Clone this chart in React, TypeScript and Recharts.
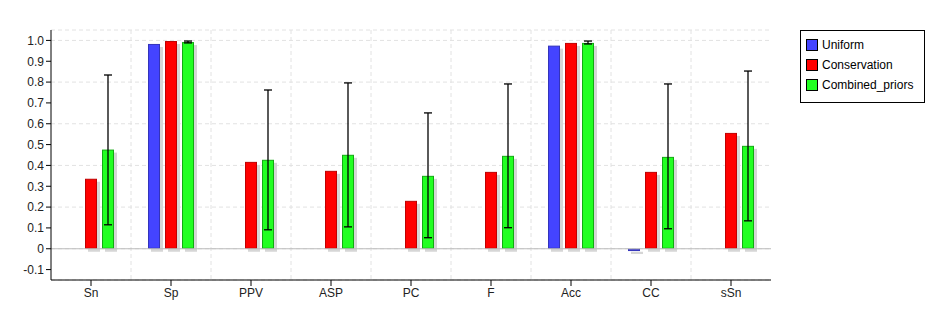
import { BarChart, Bar, XAxis, YAxis, CartesianGrid, ErrorBar, ReferenceLine } from "recharts"

const categories = ["Sn", "Sp", "PPV", "ASP", "PC", "F", "Acc", "CC", "sSn"]
const uniform = [null, 0.983, null, null, null, null, 0.975, -0.011, null]
const conservation = [0.336, 0.997, 0.417, 0.374, 0.23, 0.369, 0.988, 0.369, 0.556]
const combined = [0.476, 0.992, 0.427, 0.451, 0.35, 0.446, 0.988, 0.441, 0.494]
const combinedLow = [0.115, 0.988, 0.091, 0.105, 0.053, 0.101, 0.983, 0.096, 0.134]
const combinedHigh = [0.834, 0.997, 0.762, 0.796, 0.652, 0.791, 0.997, 0.791, 0.853]
const yTicks = [-0.1, 0, 0.1, 0.2, 0.3, 0.4, 0.5, 0.6, 0.7, 0.8, 0.9, 1.0]

const SERIES = [
  { key: "Uniform", fill: "#4444ff", stroke: "#3333bb" },
  { key: "Conservation", fill: "#ff0000", stroke: "#c00000" },
  { key: "Combined_priors", fill: "#22ff22", stroke: "#11aa11" },
]

const data = categories.map((name, i) => ({
  name,
  Uniform: uniform[i],
  Conservation: conservation[i],
  Combined_priors: combined[i],
  err: [combined[i] - combinedLow[i], combinedHigh[i] - combined[i]],
}))

const FONT = "'Liberation Sans', Arial, sans-serif"

function ShadowBar(props: any) {
  const { x, y, width, height, fill, stroke } = props
  if (height == null || width == null) return null
  const top = Math.min(y, y + height)
  const h = Math.abs(height)
  return (
    <g>
      <rect x={x + 3} y={top + 3} width={width} height={h} fill="#d6d6d6" />
      <rect x={x + 0.5} y={top + 0.5} width={width - 1} height={Math.max(h - 1, 1)} fill={fill} stroke={stroke} strokeWidth={1} />
    </g>
  )
}

// legend sits outside the plot, like the original's separate box
function LegendBox() {
  return (
    <div
      style={{
        position: "absolute",
        left: 800,
        top: 30,
        width: 123,
        border: "1px solid #000",
        background: "#fff",
        padding: "4px 0 7px 0",
        fontFamily: FONT,
        fontSize: 12,
        color: "#000",
      }}
    >
      {SERIES.map((s) => (
        <div key={s.key} style={{ display: "flex", alignItems: "center", height: 20, paddingLeft: 5 }}>
          <span style={{ display: "inline-block", width: 10, height: 10, background: s.fill, border: "1px solid #000", marginRight: 4 }} />
          {s.key}
        </div>
      ))}
    </div>
  )
}

export default function App() {
  return (
    <div style={{ position: "absolute", left: 0, top: 0, width: 944, height: 333, background: "#fff" }}>
      <BarChart
        width={944}
        height={333}
        data={data}
        margin={{ top: 30, right: 173, bottom: 23, left: 11 }}
        barSize={12}
        barGap={5}
        barCategoryGap={17}
      >
        <CartesianGrid
          stroke="#e2e2e2"
          strokeDasharray="4 3"
          verticalCoordinatesGenerator={({ offset }: any) =>
            categories.slice(1).map((_, i) => offset.left + ((i + 1) * offset.width) / categories.length)
          }
        />
        <XAxis
          dataKey="name"
          axisLine={{ stroke: "#000" }}
          tickLine={{ stroke: "#000" }}
          tickSize={6}
          tick={{ fill: "#222", fontSize: 12, fontFamily: FONT }}
          height={30}
        />
        <YAxis
          domain={[-0.15, 1.05]}
          ticks={yTicks}
          allowDataOverflow
          width={40}
          axisLine={{ stroke: "#000" }}
          tickLine={{ stroke: "#000" }}
          tickSize={5}
          tick={{ fill: "#222", fontSize: 12, fontFamily: FONT }}
          tickFormatter={(v: number) => (v === 0 ? "0" : v.toFixed(1))}
        />
        <ReferenceLine y={0} stroke="#bbbbbb" strokeWidth={1} />
        {SERIES.map((s) => (
          <Bar
            key={s.key}
            dataKey={s.key}
            fill={s.fill}
            stroke={s.stroke}
            isAnimationActive={false}
            shape={(p: any) => <ShadowBar {...p} fill={s.fill} stroke={s.stroke} />}
          >
            {s.key === "Combined_priors" && (
              <ErrorBar dataKey="err" width={4} stroke="#000" strokeWidth={1.3} direction="y" />
            )}
          </Bar>
        ))}
      </BarChart>
      <LegendBox />
    </div>
  )
}
